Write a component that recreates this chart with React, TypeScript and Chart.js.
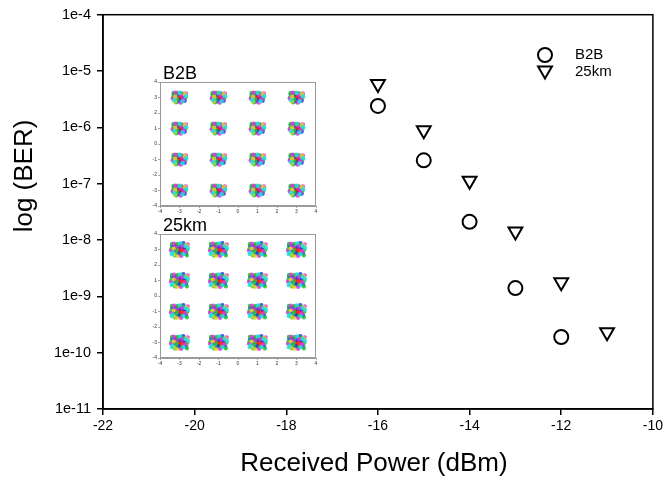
import React, { useEffect, useRef } from 'react';
import { Chart, registerables } from 'chart.js';
import { drawPoint } from 'chart.js/helpers';

Chart.register(...registerables);

// ---------------- data ----------------
const powerB2B = [-16, -15, -14, -13, -12];
const berB2B = [2.4e-6, 2.6e-7, 2.1e-8, 1.4e-9, 1.9e-10];
const power25km = [-16, -15, -14, -13, -12, -11];
const ber25km = [5.9e-6, 8.9e-7, 1.13e-7, 1.42e-8, 1.77e-9, 2.3e-10];

const xTicks = [-22, -20, -18, -16, -14, -12, -10];
const yExponents = [-11, -10, -9, -8, -7, -6, -5, -4];
const seriesNames = ['B2B', '25km'];
const xTitle = 'Received Power (dBm)';
const yTitle = 'log (BER)';

// constellation insets (16-QAM)
const constellationLevels = [-3, -1, 1, 3];
const insetTicks = [-4, -3, -2, -1, 0, 1, 2, 3, 4];
const cloudColors = ['#ff1a1a', '#1fbf35', '#2233ee', '#dd33dd', '#22dddd', '#e0d820'];
const drawOrder = [4, 5, 3, 1, 2, 0];
// [dx, dy, colour index]
const b2bCloud = [
  [-0.32, 0.02, 1], [-0.28, 0.18, 2], [-0.27, -0.16, 4], [-0.2, 0.3, 3], [-0.18, -0.3, 1],
  [-0.22, 0.05, 5], [-0.15, 0.15, 2], [-0.12, -0.12, 1], [-0.08, 0.28, 1], [-0.06, -0.24, 2],
  [-0.04, 0.05, 0], [0.0, -0.06, 0], [0.03, 0.14, 0], [0.07, -0.14, 0], [-0.1, 0.0, 0],
  [0.12, 0.04, 0], [0.02, 0.3, 4], [0.06, -0.32, 3], [0.14, 0.24, 1], [0.16, -0.24, 4],
  [0.2, 0.1, 2], [0.22, -0.08, 3], [0.28, 0.2, 5], [0.3, -0.02, 1], [0.26, -0.2, 2],
  [0.34, 0.08, 4], [-0.34, -0.06, 3], [0.1, 0.18, 3], [-0.02, -0.18, 2], [0.18, -0.02, 0],
  [-0.14, 0.22, 0], [0.08, 0.26, 0], [-0.24, -0.24, 5], [0.32, 0.26, 3], [-0.3, 0.28, 1],
  [0.0, 0.0, 0],
];
const km25Cloud = [
  [-0.42, 0.04, 1], [-0.38, 0.24, 2], [-0.36, -0.2, 4], [-0.28, 0.38, 3], [-0.24, -0.38, 1],
  [-0.3, 0.06, 5], [-0.2, 0.2, 2], [-0.16, -0.16, 1], [-0.1, 0.36, 1], [-0.08, -0.3, 2],
  [-0.05, 0.06, 0], [0.0, -0.08, 0], [0.04, 0.18, 2], [0.09, -0.18, 0], [-0.13, 0.0, 1],
  [0.16, 0.05, 0], [0.03, 0.4, 4], [0.08, -0.42, 3], [0.18, 0.32, 1], [0.21, -0.31, 4],
  [0.26, 0.13, 2], [0.29, -0.1, 3], [0.36, 0.26, 5], [0.4, -0.03, 1], [0.34, -0.26, 2],
  [0.44, 0.1, 4], [-0.44, -0.08, 3], [0.13, 0.24, 3], [-0.03, -0.24, 2], [0.24, -0.03, 0],
  [-0.18, 0.29, 0], [0.1, 0.34, 2], [-0.31, -0.31, 5], [0.42, 0.34, 3], [-0.39, 0.36, 1],
  [-0.26, -0.06, 2], [0.3, 0.22, 4], [-0.12, -0.42, 5], [0.2, 0.42, 2], [-0.4, -0.3, 4],
  [0.38, -0.38, 1], [0.0, 0.0, 0], [-0.22, 0.12, 3], [0.12, -0.3, 1],
];

const FONT = "Arial, 'Liberation Sans', Helvetica, sans-serif";

const markerCircle = { pointStyle: 'circle', rotation: 0, radius: 7, borderWidth: 2 };
const markerTriangle = { pointStyle: 'triangle', rotation: 180, radius: 8, borderWidth: 2 };

const mainDecor = {
  id: 'mainDecor',
  afterDraw(chart: any) {
    const { ctx, chartArea } = chart;
    const { left, top, right, bottom } = chartArea;
    ctx.save();
    ctx.strokeStyle = '#000';
    ctx.lineWidth = 1.5;
    ctx.strokeRect(left, top, right - left, bottom - top);

    ctx.fillStyle = '#000';
    ctx.font = `26px ${FONT}`;
    ctx.textAlign = 'center';
    ctx.textBaseline = 'middle';
    ctx.fillText(xTitle, (left + right) / 2 - 4, 464);
    ctx.save();
    ctx.translate(25, 176);
    ctx.rotate(-Math.PI / 2);
    ctx.fillText(yTitle, 0, 0);
    ctx.restore();

    // legend
    const markers = [markerCircle, markerTriangle];
    const ys = [55, 70.5];
    const textYs = [55, 72];
    ctx.font = `15px ${FONT}`;
    ctx.textAlign = 'left';
    markers.forEach((m, i) => {
      ctx.strokeStyle = '#000';
      ctx.fillStyle = '#fff';
      ctx.lineWidth = m.borderWidth;
      drawPoint(ctx, m as any, 545, ys[i]);
      ctx.fillStyle = '#000';
      ctx.fillText(seriesNames[i], 575, textYs[i]);
    });
    ctx.restore();
  },
};

function MainChart() {
  const ref = useRef<HTMLCanvasElement>(null);
  useEffect(() => {
    const chart = new Chart(ref.current!, {
      type: 'scatter',
      data: {
        datasets: [
          {
            label: seriesNames[0],
            data: powerB2B.map((x, i) => ({ x, y: berB2B[i] })),
            pointStyle: 'circle',
            pointRadius: markerCircle.radius,
            pointBorderWidth: markerCircle.borderWidth,
            borderColor: '#000',
            backgroundColor: 'rgba(255,255,255,0)',
          },
          {
            label: seriesNames[1],
            data: power25km.map((x, i) => ({ x, y: ber25km[i] })),
            pointStyle: 'triangle',
            pointRotation: 180,
            pointRadius: markerTriangle.radius,
            pointBorderWidth: markerTriangle.borderWidth,
            borderColor: '#000',
            backgroundColor: 'rgba(255,255,255,0)',
          },
        ],
      },
      options: {
        responsive: false,
        animation: false,
        devicePixelRatio: 1,
        layout: { padding: { top: 13, right: 12, left: 0, bottom: 0 } },
        plugins: { legend: { display: false }, tooltip: { enabled: false } },
        scales: {
          x: {
            type: 'linear',
            min: xTicks[0],
            max: xTicks[xTicks.length - 1],
            afterBuildTicks: (s: any) => {
              s.ticks = xTicks.map((v) => ({ value: v }));
            },
            ticks: { font: { family: FONT, size: 14 }, color: '#000', padding: 3, maxRotation: 0 },
            grid: { drawOnChartArea: false, drawTicks: true, tickLength: 6, color: '#000', lineWidth: 1.5 },
            border: { color: '#000', width: 1.5 },
            afterFit: (s: any) => {
              s.height = 71;
            },
          },
          y: {
            type: 'logarithmic',
            min: Math.pow(10, yExponents[0]),
            max: Math.pow(10, yExponents[yExponents.length - 1]),
            afterBuildTicks: (s: any) => {
              s.ticks = yExponents.map((e) => ({ value: Math.pow(10, e) }));
            },
            ticks: {
              font: { family: FONT, size: 14.5 },
              color: '#000',
              padding: 6,
              autoSkip: false,
              callback: (v: any) => '1e' + Math.round(Math.log10(Number(v))),
            },
            grid: { drawOnChartArea: false, drawTicks: true, tickLength: 6, color: '#000', lineWidth: 1.5 },
            border: { color: '#000', width: 1.5 },
            afterFit: (s: any) => {
              s.width = 103;
            },
          },
        },
      } as any,
      plugins: [mainDecor],
    });
    return () => chart.destroy();
  }, []);
  return (
    <canvas ref={ref} width={666} height={480} style={{ position: 'absolute', left: 0, top: 0 }} />
  );
}

function insetDecor(label: string) {
  return {
    id: 'insetDecor',
    beforeDatasetsDraw(chart: any) {
      const { ctx, chartArea } = chart;
      const { left, top, right, bottom } = chartArea;
      ctx.save();
      ctx.fillStyle = '#fff';
      ctx.fillRect(left, top, right - left, bottom - top);
      ctx.restore();
    },
    afterDraw(chart: any) {
      const { ctx, chartArea } = chart;
      const { left, top, right, bottom } = chartArea;
      ctx.save();
      ctx.strokeStyle = '#9a9a9a';
      ctx.lineWidth = 1;
      ctx.strokeRect(left + 0.5, top + 0.5, right - left - 1, bottom - top - 1);
      ctx.fillStyle = '#000';
      ctx.font = `18px ${FONT}`;
      ctx.textAlign = 'left';
      ctx.textBaseline = 'alphabetic';
      ctx.fillText(label, left + 3, top - 3);
      ctx.restore();
    },
  };
}

function Inset({ label, cloud, left, top, dot }: { label: string; cloud: number[][]; left: number; top: number; dot: number }) {
  const ref = useRef<HTMLCanvasElement>(null);
  useEffect(() => {
    const datasets = drawOrder.map((ci) => {
      const pts: { x: number; y: number }[] = [];
      constellationLevels.forEach((cy) => {
        constellationLevels.forEach((cx) => {
          cloud.forEach(([dx, dy, c]) => {
            if (c === ci) pts.push({ x: cx + dx, y: cy + dy });
          });
        });
      });
      return {
        data: pts,
        pointRadius: dot,
        pointBorderWidth: 0,
        backgroundColor: cloudColors[ci] + 'd8',
        borderColor: cloudColors[ci],
      };
    });
    const tickCfg = { font: { family: FONT, size: 5 }, color: '#333', padding: 1, autoSkip: false, maxRotation: 0 };
    const chart = new Chart(ref.current!, {
      type: 'scatter',
      data: { datasets },
      options: {
        responsive: false,
        animation: false,
        devicePixelRatio: 1,
        layout: { padding: { top: 20, right: 6, left: 0, bottom: 0 } },
        plugins: { legend: { display: false }, tooltip: { enabled: false } },
        scales: {
          x: {
            type: 'linear',
            min: -4,
            max: 4,
            afterBuildTicks: (s: any) => {
              s.ticks = insetTicks.map((v) => ({ value: v }));
            },
            ticks: tickCfg,
            grid: { drawOnChartArea: false, drawTicks: true, tickLength: 2, color: '#aaa' },
            border: { color: '#9a9a9a' },
            afterFit: (s: any) => {
              s.height = 10;
            },
          },
          y: {
            type: 'linear',
            min: -4,
            max: 4,
            afterBuildTicks: (s: any) => {
              s.ticks = insetTicks.map((v) => ({ value: v }));
            },
            ticks: tickCfg,
            grid: { drawOnChartArea: false, drawTicks: true, tickLength: 2, color: '#aaa' },
            border: { color: '#9a9a9a' },
            afterFit: (s: any) => {
              s.width = 14;
            },
          },
        },
      } as any,
      plugins: [insetDecor(label)],
    });
    return () => chart.destroy();
  }, []);
  return (
    <canvas ref={ref} width={176} height={154} style={{ position: 'absolute', left, top }} />
  );
}

export default function App() {
  useEffect(() => {
    document.body.style.margin = '0';
    document.body.style.overflow = 'hidden';
  }, []);
  return (
    <div style={{ position: 'relative', width: 666, height: 480, background: '#fff' }}>
      <MainChart />
      <Inset label="B2B" cloud={b2bCloud} left={146} top={62} dot={2.3} />
      <Inset label="25km" cloud={km25Cloud} left={146} top={214} dot={2.1} />
    </div>
  );
}
